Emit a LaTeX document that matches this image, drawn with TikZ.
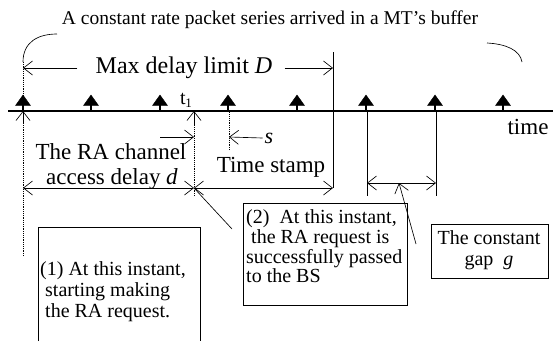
\documentclass[tikz,border=0pt]{standalone}
\usepackage{fontspec}
\setmainfont{Liberation Serif}
\usetikzlibrary{arrows.meta}
\tikzset{
  thin line/.style={line width=0.65pt},
  barb/.style={-{Straight Barb[length=9pt,width=14pt]}},
  dbarb/.style={{Straight Barb[length=9pt,width=14pt]}-{Straight Barb[length=9pt,width=14pt]}},
  dotline/.style={line width=0.9pt, dash pattern=on 1.2pt off 1pt},
  packet/.style={fill=black, draw=black},
  lbl/.style={inner sep=0pt, font=\fontsize{23}{26}\selectfont},
  boxtxt/.style={inner sep=0pt, anchor=base west, font=\fontsize{20}{22}\selectfont},
  infobox/.style={draw, line width=0.65pt},
}
\begin{document}
\begin{tikzpicture}[x=1pt,y=-1pt]
\useasboundingbox (0,0) rectangle (553,341);
% title
\node[inner sep=0pt, font=\fontsize{19.5}{22}\selectfont] (title) at (270,20) {A constant rate packet series arrived in a MT's buffer};
% brace curves
\coordinate (lc0) at (23,62);
\coordinate (lc1) at (57,34);
\draw[thin line] (lc0) .. controls (23,42) and (38,34) .. (lc1);
\coordinate (rc0) at (487,43);
\coordinate (rc1) at (522,62);
\draw[thin line] (rc0) .. controls (506,44) and (520,50) .. (rc1);
% timeline
\coordinate (tl0) at (8,111);
\coordinate (tl1) at (553,111);
\draw[line width=2.8pt] (tl0) -- (tl1);
\node[lbl, anchor=base] (time) at (528,134) {time};
% packets
\foreach \x [count=\i] in {23,91,160,228,297,366,435,503}{
  \coordinate (p\i) at (\x,111);
  \draw[line width=1.4pt] (p\i) -- ++(0,-8);
  \fill[packet] (\x-7.5,105.5) -- (\x,95) -- (\x+7.5,105.5) -- cycle;
}
% Max delay limit D
\node[inner sep=0pt, font=\fontsize{24}{26}\selectfont] (maxD) at (184,68) {Max delay limit \textit{D}};
\coordinate (vD) at (333,52);
\coordinate (vDb) at (333,188);
\draw[thin line] (vD) -- (vDb);
\coordinate (mL) at (23,68);
\coordinate (mR) at (333,68);
\draw[thin line, barb] (maxD.west) ++(-18,0) -- (mL);
\draw[thin line, barb] (maxD.east) ++(12,0) -- (mR);
% dotted verticals
\coordinate (d0top) at (23,111);
\coordinate (d0bot) at (23,256);
\draw[dotline] (lc0) -- (d0top);
\draw[dotline] (d0bot) -- (d0top);
\draw[thin line, barb] (23,124) -- (d0top);
\coordinate (t1) at (194,111);
\coordinate (t1b) at (194,196);
\draw[dotline] (t1b) -- (t1);
\draw[thin line, barb] (194,124) -- (t1);
\node[inner sep=0pt, anchor=base, font=\fontsize{20}{22}\selectfont] (t1lbl) at (186,104) {t\kern-0.5pt\raisebox{-3pt}{\fontsize{13}{14}\selectfont 1}};
\coordinate (s1) at (229,111);
\coordinate (s1b) at (229,150);
\draw[dotline] (s1b) -- (s1);
% s arrows
\coordinate (sa) at (194,137);
\coordinate (sb) at (229,137);
\draw[thin line, barb] (160,137) -- (sa);
\node[inner sep=0pt, font=\fontsize{22}{24}\selectfont] (slbl) at (269,138) {\textit{s}};
\draw[thin line, barb] (slbl.west) ++(-2,0) -- (sb);
% RA channel access delay
\node[lbl] (ra1) at (111,152) {The RA channel};
\node[lbl] (ra2) at (112,179) {access delay \textit{d}};
\coordinate (dL) at (23,188);
\coordinate (dR) at (194,188);
\draw[thin line, dbarb] (dL) -- (dR);
% Time stamp
\node[lbl] (ts) at (271,167) {Time stamp};
\coordinate (tsR) at (333,188);
\draw[thin line, dbarb] (dR) -- (tsR);
% gap g
\coordinate (g0) at (367,111);
\coordinate (g0b) at (367,196);
\coordinate (g1) at (436,111);
\coordinate (g1b) at (436,196);
\draw[thin line] (g0) -- (g0b);
\draw[thin line] (g1) -- (g1b);
\coordinate (gL) at (367,183);
\coordinate (gR) at (436,183);
\coordinate (gM) at (399,183);
\draw[thin line, dbarb] (gL) -- (gR);
% boxes
\node[infobox, minimum width=164pt, minimum height=102pt, anchor=north west, inner sep=0pt] (box2) at (243,203) {};
\node[boxtxt] (b2l1) at (246,223) {(2)\ \ At this instant,};
\node[boxtxt] (b2l2) at (246,243) {\ the RA request is};
\node[boxtxt] (b2l3) at (246,263) {successfully passed};
\node[boxtxt] (b2l4) at (246,282) {to the BS};
\node[infobox, minimum width=117pt, minimum height=54pt, anchor=north west, inner sep=0pt] (box3) at (431,224) {};
\node[inner sep=0pt, anchor=base, font=\fontsize{20}{22}\selectfont] (b3l1) at (489,244) {The constant};
\node[inner sep=0pt, anchor=base, font=\fontsize{20}{22}\selectfont] (b3l2) at (489,265) {gap\ \ \textit{g}};
% box 1 (open at the bottom)
\coordinate (b1a) at (38,341);
\coordinate (b1b) at (38,227);
\coordinate (b1c) at (200,227);
\coordinate (b1d) at (200,341);
\draw[thin line] (b1a) -- (b1b) -- (b1c) -- (b1d);
\node[boxtxt] (b1l1) at (40,275) {(1) At this instant,};
\node[boxtxt] (b1l2) at (40,296) {\ starting making};
\node[boxtxt] (b1l3) at (40,317) {\ the RA request.};
% leaders
\coordinate (lead2) at (232,229);
\draw[thin line] (lead2) -- (dR);
\coordinate (lead3) at (416,244);
\draw[thin line, barb] (lead3) -- (gM);
\end{tikzpicture}
\end{document}
